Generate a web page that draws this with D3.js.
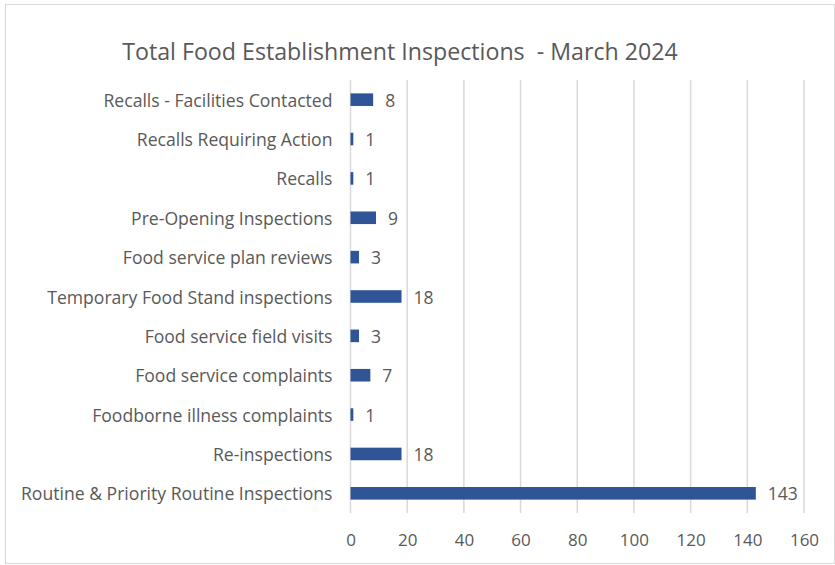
<!DOCTYPE html>
<html>
<head>
<meta charset="utf-8">
<script src="https://cdn.jsdelivr.net/npm/d3@7"></script>
<style>
  body { margin: 0; background: #fff; }
  text { font-family: "Open Sans", "Liberation Sans", Arial, sans-serif; fill: #595959; }
</style>
</head>
<body>
<script>
// categories, top to bottom
var categories = [
    "Recalls - Facilities Contacted",
    "Recalls Requiring Action",
    "Recalls",
    "Pre-Opening Inspections",
    "Food service plan reviews",
    "Temporary Food Stand inspections",
    "Food service field visits",
    "Food service complaints",
    "Foodborne illness complaints",
    "Re-inspections",
    "Routine & Priority Routine Inspections"
];
var counts = [8, 1, 1, 9, 3, 18, 3, 7, 1, 18, 143];
var xTicks = [0, 20, 40, 60, 80, 100, 120, 140, 160];
var title = "Total Food Establishment Inspections  - March 2024";

var width = 835, height = 565;
var margin = {top: 80, right: 31, bottom: 52, left: 350.5};

var svg = d3.select("body").append("svg")
    .attr("width", width)
    .attr("height", height);

// chart border
svg.append("rect")
    .attr("x", 5.5).attr("y", 4.5)
    .attr("width", width - 6).attr("height", height - 6)
    .attr("fill", "none")
    .attr("stroke", "#d9d9d9");

var xScale = d3.scaleLinear()
    .domain([0, 160])
    .range([margin.left, width - margin.right]);

var yScale = d3.scaleBand()
    .domain(categories)
    .range([margin.top, height - margin.bottom])
    .paddingInner(0.68)
    .paddingOuter(0.34);

// gridlines
svg.append("g")
    .selectAll("line")
    .data(xTicks)
    .enter()
    .append("line")
    .attr("x1", function(d) { return xScale(d); })
    .attr("x2", function(d) { return xScale(d); })
    .attr("y1", margin.top)
    .attr("y2", height - margin.bottom)
    .attr("stroke", "#d9d9d9")
    .attr("stroke-width", 1.5);

// x axis labels
var xAxis = d3.axisBottom(xScale)
    .tickValues(xTicks)
    .tickSize(0)
    .tickPadding(0);

var gx = svg.append("g")
    .attr("transform", "translate(0," + (height - margin.bottom + 21) + ")")
    .call(xAxis);
gx.select(".domain").remove();
gx.selectAll("text")
    .style("font-size", "17px")
    .attr("fill", "#595959")
    .attr("font-family", null);

// y axis labels
var yAxis = d3.axisLeft(yScale)
    .tickSize(0)
    .tickPadding(18);

var gy = svg.append("g")
    .attr("transform", "translate(" + margin.left + ",0)")
    .call(yAxis);
gy.select(".domain").remove();
gy.selectAll("text")
    .style("font-size", "17.6px")
    .attr("fill", "#595959")
    .attr("font-family", null)
    .attr("dy", "0.4em");

// bars
svg.selectAll(".bar")
    .data(counts)
    .enter()
    .append("rect")
    .attr("class", "bar")
    .attr("x", xScale(0))
    .attr("y", function(d, i) { return yScale(categories[i]); })
    .attr("width", function(d) { return xScale(d) - xScale(0); })
    .attr("height", yScale.bandwidth())
    .attr("fill", "#2f5597");

// value labels
svg.selectAll(".value")
    .data(counts)
    .enter()
    .append("text")
    .attr("class", "value")
    .attr("x", function(d) { return xScale(d) + 12; })
    .attr("y", function(d, i) { return yScale(categories[i]) + yScale.bandwidth() / 2; })
    .attr("dy", "0.4em")
    .style("font-size", "17.5px")
    .text(function(d) { return d; });

// title (keep the double space)
svg.append("text")
    .attr("x", 400)
    .attr("y", 59.5)
    .attr("text-anchor", "middle")
    .style("font-size", "23.2px")
    .style("white-space", "pre")
    .text(title);
</script>
</body>
</html>
